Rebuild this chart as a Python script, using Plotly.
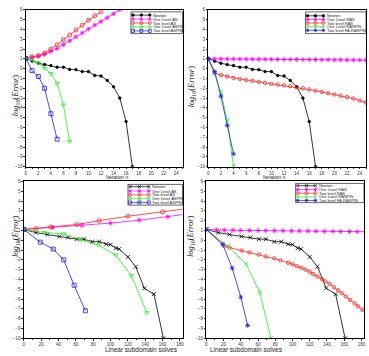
import plotly.graph_objects as go

W, H = 369, 356

# ---------------- data ----------------
# top row: error vs iteration n
iter_newton = list(range(18))
newton_iter_y = [1.05, 0.76, 0.55, 0.42, 0.32, 0.15, 0.15, -0.08, -0.1, -0.3, -0.3, -0.7, -0.75, -1.2, -1.85, -3.0, -5.4, -10.0]

tl_as1_y = [1.05, 1.15, 1.25, 1.45, 1.75, 2.05, 2.45, 2.85, 3.25, 3.65, 4.05, 4.45, 4.8, 5.2, 5.6, 6.0]
tl_as2_y = [1.05, 1.2, 1.35, 1.6, 2.0, 2.45, 2.95, 3.45, 3.95, 4.45, 4.95, 5.4, 5.8]
tl_aspin1_y = [1.05, 0.8, 0.6, 0.05, -0.5, -1.5, -3.7, -7.4]
tl_aspin2_y = [1.05, -0.2, -0.8, -2.0, -4.6, -7.2]

tr_ras1_y = [1.0, 1.0, 1.0, 0.99, 0.99, 0.98, 0.98, 0.97, 0.97, 0.96, 0.96, 0.95, 0.95,
             0.94, 0.94, 0.93, 0.93, 0.92, 0.91, 0.91, 0.9, 0.9, 0.89, 0.88, 0.88, 0.87]
tr_ras2_y = [1.0, -0.45, -0.65, -0.8, -0.95, -1.05, -1.15, -1.25, -1.35, -1.45, -1.55, -1.62, -1.7,
             -1.78, -1.88, -2.0, -2.12, -2.25, -2.38, -2.5, -2.62, -2.75, -2.9, -3.05, -3.25, -3.45]
tr_raspin1_y = [1.0, -0.5, -2.4, -5.3, -10.0]
tr_raspin2_y = [1.0, -0.3, -2.8, -5.8, -8.7]

# bottom row: error vs linear subdomain solves
bl_newton_x = [0, 14, 27, 41, 51, 61, 69, 79, 87, 95, 100, 106, 110, 120, 129, 139, 150, 161]
bl_newton_y = [1.1, 0.78, 0.58, 0.38, 0.28, 0.11, 0.11, -0.15, -0.15, -0.4, -0.45, -0.8, -0.9, -1.7, -2.7, -4.9, -5.5, -10.0]

bl_as1_x = [0, 33, 67, 100, 133, 166, 200]
bl_as1_y = [1.1, 1.3, 1.5, 1.75, 2.05, 2.4, 2.8]
bl_as2_x = [0, 14, 31, 61, 87, 120, 160, 200]
bl_as2_y = [1.1, 1.2, 1.35, 1.6, 2.0, 2.45, 2.9, 3.35]
bl_aspin1_x = [0, 24, 46, 65, 86, 106, 124, 142]
bl_aspin1_y = [1.1, 0.8, 0.65, 0.05, -0.5, -1.5, -3.6, -7.4]
bl_aspin2_x = [0, 19, 34, 46, 58, 71]
bl_aspin2_y = [1.1, -0.2, -0.9, -2.0, -4.6, -7.2]

br_ras1_x = [0, 12, 21, 31, 40, 50, 60, 69, 79, 89, 99, 108, 118, 127, 137, 147, 156, 166, 175, 185]
br_ras1_y = [1.1, 1.05, 1.03, 1.02, 1.0, 1.0, 0.99, 0.98, 0.97, 0.96, 0.95, 0.95, 0.94, 0.93, 0.92, 0.91, 0.9, 0.89, 0.88, 0.87]
br_ras2_x = [0, 20, 27, 41, 50, 61, 69, 79, 86, 95, 100, 105, 110, 115, 120, 124, 129, 134, 138, 143,
             148, 153, 157, 162, 167, 172, 176, 181, 186]
br_ras2_y = [1.1, -0.55, -0.75, -1.05, -1.25, -1.45, -1.65, -1.85, -2.05, -2.3, -2.45, -2.65, -2.8, -3.0, -3.2,
             -3.45, -3.7, -3.95, -4.2, -4.45, -4.8, -5.1, -5.4, -5.75, -6.1, -6.45, -6.75, -7.1, -7.4]
br_raspin1_x = [0, 25, 46, 62, 75]
br_raspin1_y = [1.1, -0.6, -2.4, -5.3, -10.0]
br_raspin2_x = [0, 19, 30, 40, 48]
br_raspin2_y = [1.1, -0.4, -2.85, -5.8, -8.7]

labels_as = ["Newton", "One Level AS", "Two level AS", "One Level ASPIN", "Two level ASPIN"]
labels_ras = ["Newton", "One Level RAS", "Two level RAS", "One Level RASPIN", "Two level FA-RASPIN"]

# ---------------- styles ----------------
BLACK, MAG, RED, GREEN, BLUE = "#000000", "#ff00ff", "#ff2020", "#22ee22", "#2020dd"
LW = 0.8

def mk(symbol, color, size=4):
    return dict(symbol=symbol, size=size, color=color, line=dict(color=color, width=0.8))

sty_top = [
    (BLACK, mk("circle", BLACK, 2.5)),
    (MAG, mk("asterisk-open", MAG)),
    (RED, mk("circle-open", RED)),
    (GREEN, mk("triangle-down-open", GREEN)),
    (BLUE, mk("square-open", BLUE)),
]
sty_top_r = [
    (BLACK, mk("circle", BLACK, 2.5)),
    (MAG, mk("asterisk-open", MAG)),
    (RED, mk("circle-open", RED, 3.5)),
    (GREEN, mk("x-thin-open", GREEN)),
    (BLUE, mk("asterisk-open", BLUE)),
]
sty_bot = [
    (BLACK, mk("x-thin-open", BLACK)),
    (MAG, mk("asterisk-open", MAG)),
    (RED, mk("circle-open", RED)),
    (GREEN, mk("triangle-down-open", GREEN)),
    (BLUE, mk("square-open", BLUE)),
]
sty_bot_r = [
    (BLACK, mk("x-thin-open", BLACK)),
    (MAG, mk("asterisk-open", MAG)),
    (RED, mk("circle-open", RED, 3.5)),
    (GREEN, mk("x-thin-open", GREEN)),
    (BLUE, mk("asterisk-open", BLUE)),
]

fig = go.Figure()

def add(x, y, sty, xa, ya):
    c, m = sty
    fig.add_trace(go.Scatter(x=x, y=y, mode="lines+markers", line=dict(color=c, width=LW),
                             marker=m, xaxis=xa, yaxis=ya, showlegend=False, cliponaxis=True))

series_tl = [(iter_newton, newton_iter_y), (list(range(len(tl_as1_y))), tl_as1_y),
             (list(range(len(tl_as2_y))), tl_as2_y), (list(range(len(tl_aspin1_y))), tl_aspin1_y),
             (list(range(len(tl_aspin2_y))), tl_aspin2_y)]
for (x, y), s in zip(series_tl, sty_top):
    add(x, y, s, "x", "y")
series_tr = [(iter_newton, newton_iter_y), (list(range(len(tr_ras1_y))), tr_ras1_y),
             (list(range(len(tr_ras2_y))), tr_ras2_y), (list(range(len(tr_raspin1_y))), tr_raspin1_y),
             (list(range(len(tr_raspin2_y))), tr_raspin2_y)]
for (x, y), s in zip(series_tr, sty_top_r):
    add(x, y, s, "x2", "y2")
series_bl = [(bl_newton_x, bl_newton_y), (bl_as1_x, bl_as1_y), (bl_as2_x, bl_as2_y),
             (bl_aspin1_x, bl_aspin1_y), (bl_aspin2_x, bl_aspin2_y)]
for (x, y), s in zip(series_bl, sty_bot):
    add(x, y, s, "x3", "y3")
series_br = [(bl_newton_x, bl_newton_y), (br_ras1_x, br_ras1_y), (br_ras2_x, br_ras2_y),
             (br_raspin1_x, br_raspin1_y), (br_raspin2_x, br_raspin2_y)]
for (x, y), s in zip(series_br, sty_bot_r):
    add(x, y, s, "x4", "y4")

# ---------------- axes ----------------
def px_dom_x(a, b):
    return [a / W, b / W]

def px_dom_y(top, bot):
    return [1 - bot / H, 1 - top / H]

common = dict(showline=True, linecolor="black", linewidth=1, mirror=True, ticks="outside",
              ticklen=1.5, tickwidth=0.6, tickcolor="#333",
              tickfont=dict(size=4.5, color="#333", family="Liberation Sans"),
              showgrid=False, zeroline=False, fixedrange=True)

boxes = {
    1: (25, 183, 8, 167),
    2: (209, 368, 8, 167),
    3: (23, 183, 182, 341),
    4: (207, 366, 182, 341),
}
layout = {}
for i, (x0, x1, y0, y1) in boxes.items():
    sx = "" if i == 1 else str(i)
    top = i in (1, 2)
    xr = [0, 25] if top else [0, 183]
    dt = 2 if top else 20
    layout["xaxis" + sx] = dict(common, domain=px_dom_x(x0, x1), range=xr, dtick=dt, tick0=0,
                                anchor="y" + sx, ticklabelstandoff=0,
                                minor=dict(ticks="outside", ticklen=1.2, dtick=dt / 2, tickcolor="#333"))
    layout["yaxis" + sx] = dict(common, domain=px_dom_y(y0, y1), range=[-10, 6], dtick=1, tick0=0,
                                anchor="x" + sx)
layout["xaxis5"] = dict(domain=[0, 1], range=[0, W], visible=False, anchor="y5", fixedrange=True)
layout["yaxis5"] = dict(domain=[0, 1], range=[H, 0], visible=False, anchor="x5", fixedrange=True)

annotations = []
shapes = []
for xc, yc in [((25 + 183) / 2, 177.6), ((209 + 368) / 2, 177.6)]:
    annotations.append(dict(x=xc / W, y=1 - yc / H, xref="paper", yref="paper", text="Iteration n",
                            showarrow=False, yanchor="middle",
                            font=dict(size=5, color="#222", family="Liberation Sans")))
for xc, yc in [((23 + 183) / 2, 352), ((207 + 366) / 2, 352)]:
    annotations.append(dict(x=xc / W, y=1 - yc / H, xref="paper", yref="paper", text="Linear subdomain solves",
                            showarrow=False, yanchor="middle",
                            font=dict(size=6.5, color="#222", family="Liberation Sans")))
for xc, yc in [(7, 71), (192, 62), (7, 237), (191, 237)]:
    annotations.append(dict(x=xc / W, y=1 - yc / H, xref="paper", yref="paper",
                            text="<i>log</i><sub>10</sub>(<i>Error</i>)", textangle=-90,
                            showarrow=False, font=dict(size=8.5, color="#222", family="Liberation Serif")))

# compact legends (box, key span, row centres)
legends = [
    (131, 183, 10, 32, 133, 150, [13.3, 17.3, 21.3, 25.3, 29.3], labels_as, sty_top, 4),
    (307, 368, 10, 32, 309, 325, [14, 17.7, 21.3, 25, 28.7], labels_ras, sty_top_r, 4),
    (128, 183, 185, 206, 130, 149, [187.3, 191.7, 195.7, 199.5, 203.3], labels_as, sty_bot, 4),
    (297, 366, 184, 203.5, 299, 317, [186.3, 190.3, 194, 197.7, 201.3], labels_ras, sty_bot_r, 4),
]
for bx0, bx1, by0, by1, kx0, kx1, rows, labs, stys, fs in legends:
    shapes.append(dict(type="rect", xref="paper", yref="paper", x0=bx0 / W, x1=bx1 / W,
                       y0=1 - by1 / H, y1=1 - by0 / H, line=dict(color="black", width=0.6),
                       fillcolor="white", layer="below"))
    for ry, lab, (c, m) in zip(rows, labs, stys):
        mm = dict(m)
        mm["size"] = min(m["size"], 3)
        fig.add_trace(go.Scatter(x=[kx0, (kx0 + kx1) / 2, kx1], y=[ry, ry, ry], mode="lines+markers",
                                 line=dict(color=c, width=0.7), marker=mm, xaxis="x5", yaxis="y5",
                                 showlegend=False, hoverinfo="skip"))
        annotations.append(dict(x=kx1 + 1.5, y=ry, xref="x5", yref="y5", text=lab, xanchor="left",
                                yanchor="middle", showarrow=False,
                                font=dict(size=fs, color="#222", family="Liberation Sans")))

fig.update_layout(width=W, height=H, margin=dict(l=0, r=0, t=0, b=0), paper_bgcolor="white",
                  plot_bgcolor="rgba(0,0,0,0)", showlegend=False, annotations=annotations, shapes=shapes,
                  **layout)
fig.write_html("out.html")
